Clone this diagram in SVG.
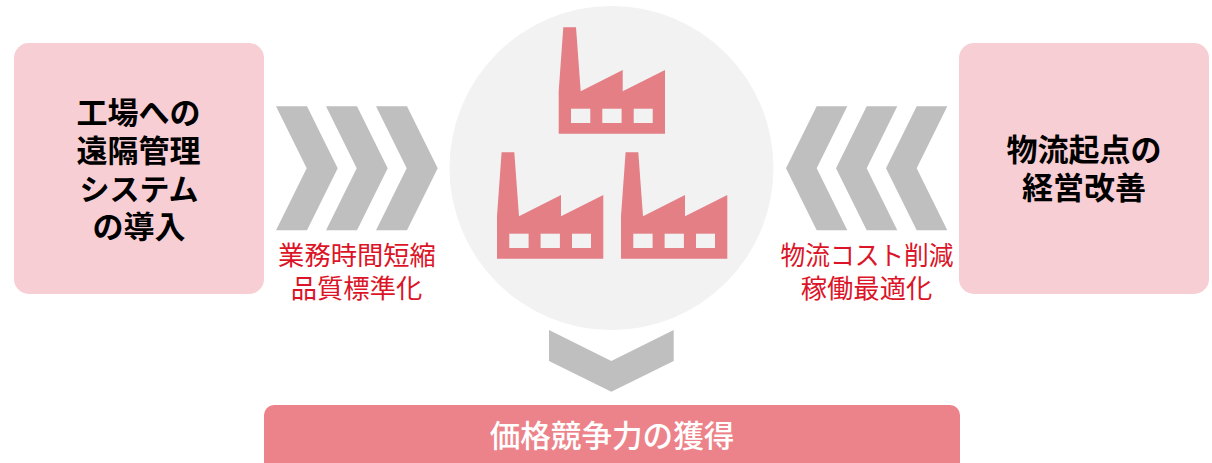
<svg xmlns="http://www.w3.org/2000/svg" width="1212" height="463" viewBox="0 0 1212 463">
<style>
text{font-family:"Noto Sans CJK JP","Noto Sans",sans-serif;text-anchor:middle}
.box{fill:#f7ced3}
.t{font-size:31px;font-weight:700;fill:#000}
.r{font-size:26.3px;fill:#dc1428}
.c{fill:#bfbfbf}
.f{fill:#e37f85}
.w{fill:#f2f2f2}
</style>
<defs>
<g id="factory">
<path class="f" d="M563.3 27.3H576L580.7 91.3L622.7 70V91.3L665 70V133.7H558.7V91.3Z"/>
<rect class="w" x="571" y="108.7" width="19.3" height="14.3"/>
<rect class="w" x="602.3" y="108.7" width="19.3" height="14.3"/>
<rect class="w" x="633.7" y="108.7" width="19" height="14.3"/>
</g>
<path id="chevR" class="c" d="M276 106.3H307L337.7 168.3L307 230.3H276L306.7 168.3Z"/>
<path id="chevL" class="c" d="M847.3 106.3H816.7L786 168.3L816.7 230.3H847.3L816.7 168.3Z"/>
</defs>
<g id="hub"><circle cx="611.5" cy="168" r="162" fill="#f2f2f2"/></g>
<g id="factories">
<use href="#factory"/>
<use href="#factory" x="-61.7" y="125"/>
<use href="#factory" x="62.3" y="125"/>
</g>
<g id="node-left">
<rect class="box" x="14" y="43" width="250" height="251" rx="15"/>
<text class="t"><tspan x="138.5" y="124">工場への</tspan><tspan x="138.5" y="162">遠隔管理</tspan><tspan x="139" y="200" font-size="30">システム</tspan><tspan x="139" y="238">の導入</tspan></text>
</g>
<g id="node-right">
<rect class="box" x="959" y="43" width="250" height="251" rx="15"/>
<text class="t"><tspan x="1084" y="161">物流起点の</tspan><tspan x="1084" y="199">経営改善</tspan></text>
</g>
<g id="connectors">
<use href="#chevR"/><use href="#chevR" x="50"/><use href="#chevR" x="100"/>
<use href="#chevL"/><use href="#chevL" x="50"/><use href="#chevL" x="100"/>
<path class="c" d="M549 330L611.3 361L673.7 330V361L611.3 391.7L549 361Z"/>
</g>
<g id="label-left">
<text class="r"><tspan x="357" y="265">業務時間短縮</tspan><tspan x="356.5" y="298">品質標準化</tspan></text>
</g>
<g id="label-right">
<text class="r" x="867" y="265" textLength="173" lengthAdjust="spacingAndGlyphs">物流コスト削減</text>
<text class="r" x="866.5" y="298">稼働最適化</text>
</g>
<g id="node-bottom">
<rect x="264" y="405" width="696" height="80" rx="10" fill="#ec838a"/>
<text x="612" y="447" font-size="30.6" font-weight="500" fill="#fff">価格競争力の獲得</text>
</g>
</svg>
